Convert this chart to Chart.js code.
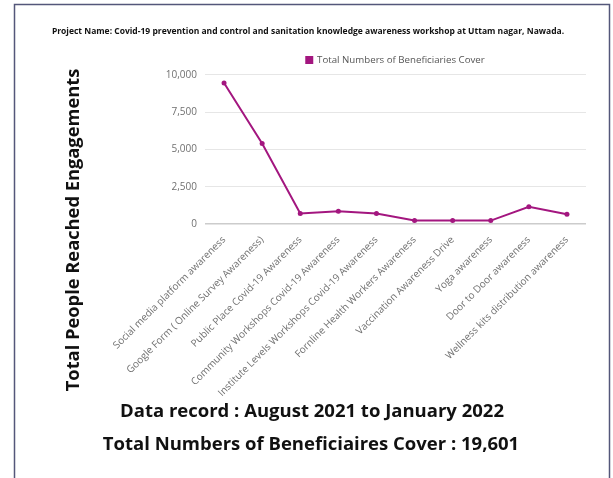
<!DOCTYPE html>
<html>
<head>
<meta charset="utf-8">
<script src="https://cdn.jsdelivr.net/npm/chart.js@4/dist/chart.umd.min.js"></script>
<style>
  html, body { margin: 0; padding: 0; background: #ffffff; }
  #wrap { position: relative; width: 613px; height: 478px; }
</style>
</head>
<body>
<div id="wrap"><canvas id="chart" width="613" height="478"></canvas></div>
<script>
// Workshop categories and the number of beneficiaries reached in each
const categories = [
  "Social media platform awareness",
  "Google Form ( Online Survey Awareness)",
  "Public Place Covid-19 Awareness",
  "Community Workshops Covid-19 Awareness",
  "Institute Levels Workshops Covid-19 Awareness",
  "Fornline Health Workers Awareness",
  "Vaccination Awareness Drive",
  "Yoga awareness",
  "Door to Door awareness",
  "Wellness kits distribution awareness"
];
const beneficiaries = [9451, 5400, 700, 850, 700, 230, 230, 230, 1150, 660];
const yTicks = [0, 2500, 5000, 7500, 10000];

const seriesName = "Total Numbers of Beneficiaries Cover";
const projectTitle = "Project Name: Covid-19 prevention and control and sanitation knowledge awareness workshop at Uttam nagar, Nawada.";
const yAxisTitle = "Total People Reached Engagements";
const footerLines = [
  "Data record : August 2021 to January 2022",
  "Total Numbers of Beneficiaires Cover : 19,601"
];

const lineColor = "#a3167f";
const FONT = "'Open Sans', 'Noto Sans', sans-serif";

// Frame around the sheet, the vertical axis caption and the two summary lines
const sheetPlugin = {
  id: "sheet",
  beforeDraw(chart) {
    const ctx = chart.ctx;
    ctx.save();
    ctx.fillStyle = "#ffffff";
    ctx.fillRect(0, 0, chart.width, chart.height);
    ctx.restore();
  },
  afterDraw(chart) {
    const ctx = chart.ctx;
    ctx.save();
    ctx.strokeStyle = "#54577a";
    ctx.lineWidth = 1.5;
    ctx.strokeRect(14.5, 4.5, 595, 500);

    ctx.fillStyle = "#111111";
    ctx.textAlign = "center";
    ctx.textBaseline = "middle";

    ctx.save();
    ctx.translate(74, 230);
    ctx.rotate(-Math.PI / 2);
    ctx.font = "bold 18.3px " + FONT;
    ctx.fillText(yAxisTitle, 0, 0);
    ctx.restore();

    ctx.font = "bold 18.5px " + FONT;
    ctx.fillText(footerLines[0], 312, 412);
    ctx.fillText(footerLines[1], 311, 445);
    ctx.restore();
  }
};

new Chart(document.getElementById("chart"), {
  type: "line",
  data: {
    labels: categories,
    datasets: [{
      label: seriesName,
      data: beneficiaries,
      borderColor: lineColor,
      backgroundColor: lineColor,
      borderWidth: 2,
      pointRadius: 2.5,
      pointHoverRadius: 3,
      pointBackgroundColor: lineColor,
      pointBorderWidth: 0,
      tension: 0
    }]
  },
  options: {
    responsive: false,
    animation: false,
    devicePixelRatio: 1,
    layout: { padding: { top: 0, left: 30, right: 27, bottom: 78 } },
    plugins: {
      title: {
        display: true,
        text: projectTitle,
        color: "#111111",
        font: { family: FONT, size: 8.5, weight: "bold", lineHeight: 1.2 },
        padding: { top: 26, bottom: 9 }
      },
      legend: {
        display: true,
        position: "top",
        fullSize: false,
        labels: {
          color: "#555555",
          font: { family: FONT, size: 9.7 },
          boxWidth: 6,
          boxHeight: 6,
          padding: 10
        }
      },
      tooltip: { enabled: false }
    },
    scales: {
      x: {
        type: "category",
        offset: true,
        grid: { display: false },
        border: { display: false },
        ticks: {
          color: "#707070",
          font: { family: FONT, size: 10 },
          minRotation: 45,
          maxRotation: 45,
          autoSkip: false,
          padding: 2
        },
        afterFit(scale) { scale.height = 478 - 78 - 224; }
      },
      y: {
        min: 0,
        max: 10000,
        afterBuildTicks(scale) { scale.ticks = yTicks.map(v => ({ value: v })); },
        grid: {
          color: ctx => ctx.tick && ctx.tick.value === 0 ? "#cccccc" : "#e6e6e6",
          lineWidth: ctx => ctx.tick && ctx.tick.value === 0 ? 1.5 : 1,
          drawTicks: false
        },
        border: { display: false },
        ticks: {
          color: "#707070",
          font: { family: FONT, size: 10 },
          padding: 8,
          callback: v => Number(v).toLocaleString("en-US")
        },
        afterFit(scale) { scale.width = 205 - 30; }
      }
    }
  },
  plugins: [sheetPlugin]
});
</script>
</body>
</html>
